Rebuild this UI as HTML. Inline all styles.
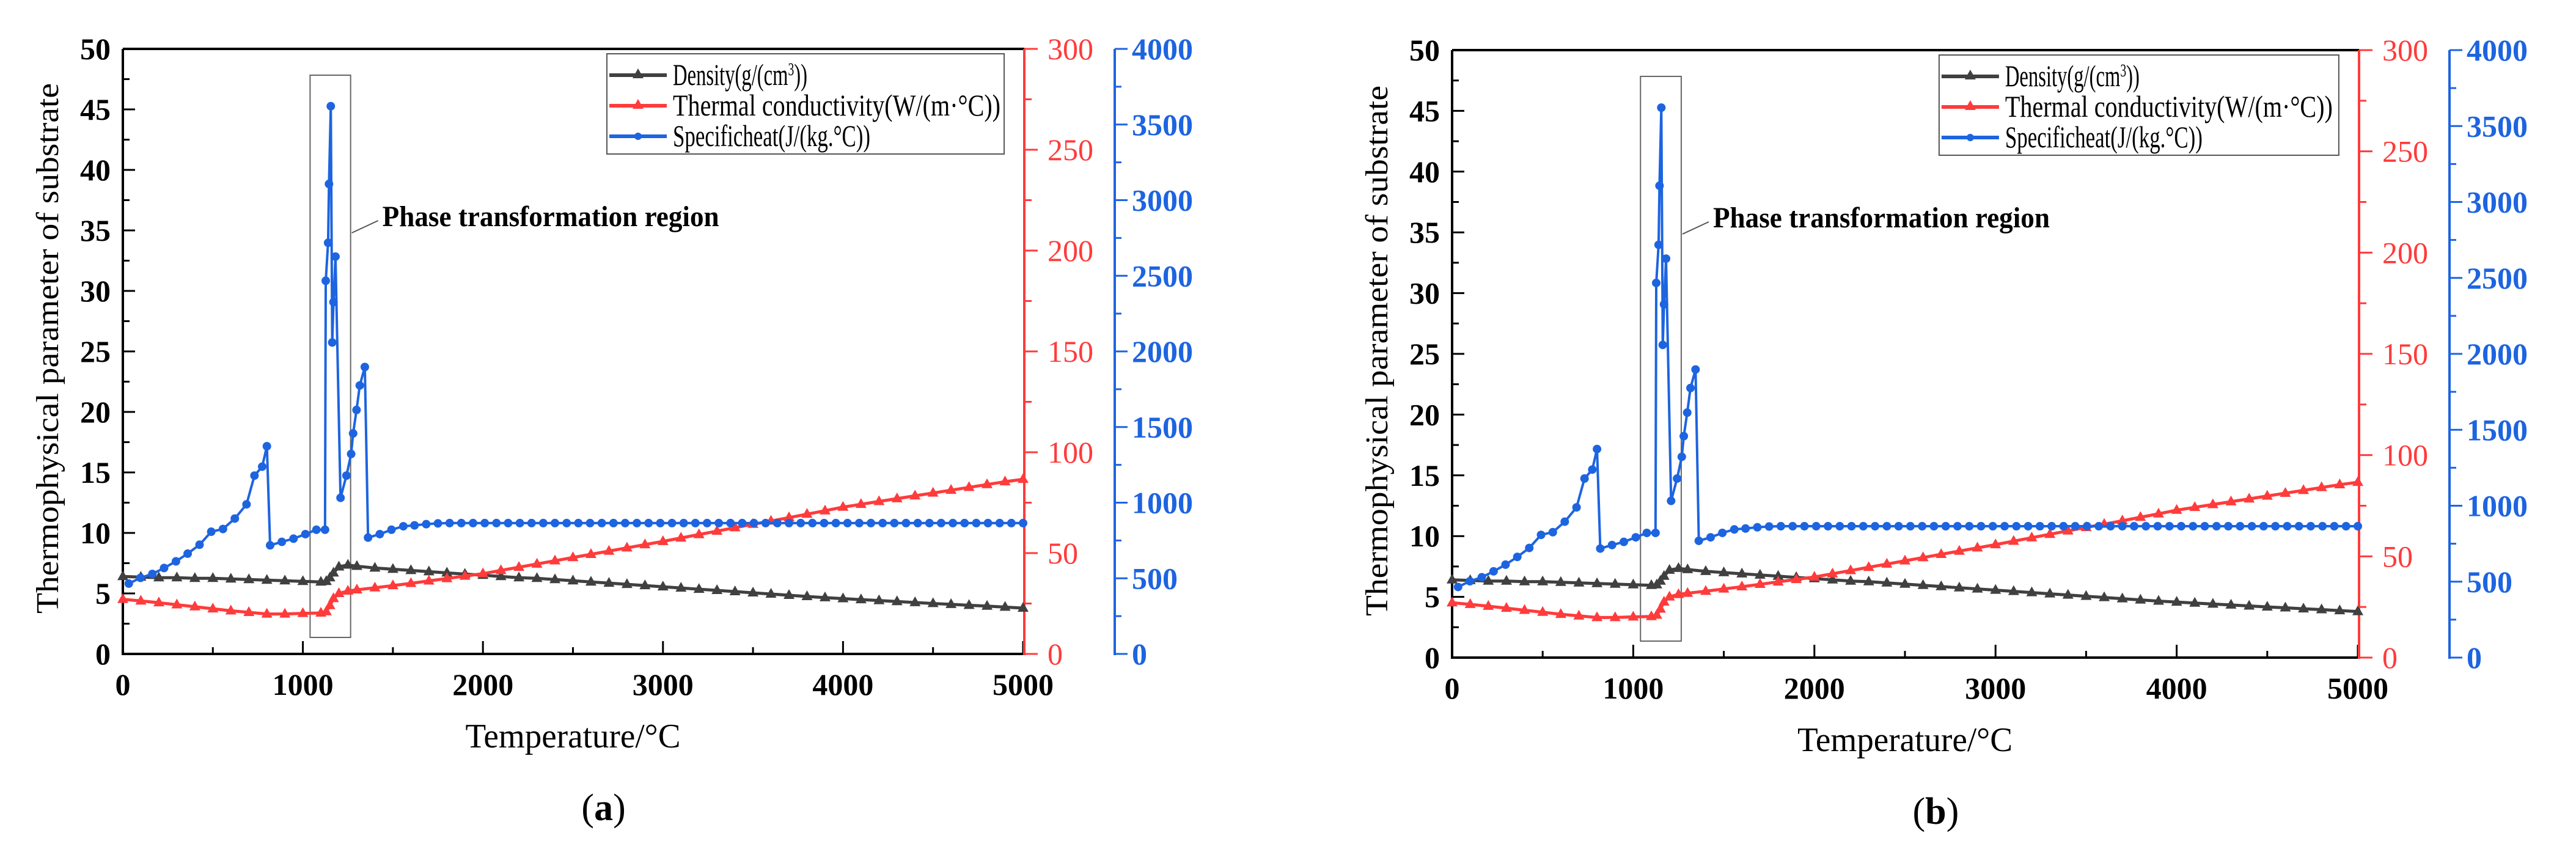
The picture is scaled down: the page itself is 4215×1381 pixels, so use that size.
<!DOCTYPE html>
<html><head><meta charset="utf-8"><title>Thermophysical parameters</title>
<style>html,body{margin:0;padding:0;background:#fff}svg{display:block}
text{font-family:"Liberation Serif",serif}</style></head>
<body>
<svg id="fig" xmlns="http://www.w3.org/2000/svg" width="4215" height="1381" viewBox="0 0 4215 1381">
<rect width="4215" height="1381" fill="#fff"/>
</svg>
<script>
// ---- data (°C ; density g/cm3 on left axis ; conductivity on red axis ; specific heat on blue axis)
const densT = [0,100,200,300,400,500,600,700,800,900,1000,1100,1130,1150,1170,1200,1250,1300,1400,1500,1600,1700,1800,1900,2000,2100,2200,2300,2400,2500,2600,2700,2800,2900,3000,3100,3200,3300,3400,3500,3600,3700,3800,3900,4000,4100,4200,4300,4400,4500,4600,4700,4800,4900,5000];
const densV = [6.4,6.35,6.3,6.3,6.25,6.25,6.2,6.15,6.1,6.05,6.0,5.95,6.0,6.3,6.7,7.2,7.35,7.25,7.1,7.0,6.9,6.8,6.7,6.6,6.5,6.4,6.3,6.25,6.15,6.05,5.95,5.85,5.75,5.65,5.55,5.45,5.35,5.25,5.15,5.05,4.95,4.85,4.75,4.65,4.57,4.49,4.41,4.33,4.25,4.17,4.1,4.02,3.95,3.87,3.79];
const condT = [0,100,200,300,400,500,600,700,800,900,1000,1100,1130,1150,1170,1200,1250,1300,1400,1500,1600,1700,1800,1900,2000,2100,2200,2300,2400,2500,2600,2700,2800,2900,3000,3100,3200,3300,3400,3500,3600,3700,3800,3900,4000,4100,4200,4300,4400,4500,4600,4700,4800,4900,5000];
const condV = [27.1,26.3,25.4,24.4,23.4,22.4,21.4,20.6,19.8,19.8,20.1,20.3,21,24,27.5,30,31.2,31.8,32.8,33.9,35,36.2,37.4,38.6,39.8,41.4,43,44.6,46.2,47.8,49.4,51,52.6,54.2,55.8,57.5,59.2,60.9,62.6,64.3,65.9,67.6,69.3,71,72.8,74.2,75.6,77,78.4,79.8,81.2,82.6,84,85.4,86.6];
const heatT = [33,98,164,229,295,360,426,491,556,622,687,731,774,800,818,883,948,1014,1075,1123,1127,1140,1145,1155,1163,1170,1181,1209,1242,1268,1279,1298,1316,1344,1362,1427,1492,1558,1620,1685,1750,1815,1880,1945,2010,2075,2140,2205,2270,2335,2400,2465,2530,2595,2660,2725,2790,2855,2920,2985,3050,3115,3180,3245,3310,3375,3440,3505,3570,3635,3700,3765,3830,3895,3960,4025,4090,4155,4220,4285,4350,4415,4480,4545,4610,4675,4740,4805,4870,4935,5000];
const heatV = [465,503,529,568,612,663,722,808,826,895,989,1179,1238,1373,718,741,762,792,821,821,2467,2718,3107,3621,2059,2326,2627,1032,1179,1322,1458,1613,1775,1897,769,792,821,844,850,858,863,865,865,865,865,865,865,865,865,865,865,865,865,865,865,865,865,865,865,865,865,865,865,865,865,865,865,865,865,865,865,865,865,865,865,865,865,865,865,865,865,865,865,865,865,865,865,865,865,865,865];
const xTicks = [0,1000,2000,3000,4000,5000];
const leftTicks = [0,5,10,15,20,25,30,35,40,45,50];
const redTicks = [0,50,100,150,200,250,300];
const blueTicks = [0,500,1000,1500,2000,2500,3000,3500,4000];

const NS = "http://www.w3.org/2000/svg";
const svg = document.getElementById('fig');
function mk(tag, attrs, parent){const e=document.createElementNS(NS,tag);for(const k in attrs)e.setAttribute(k,attrs[k]);parent.appendChild(e);return e;}
const BLACK="#404040", RED="#ff3b3b", BLUE="#1d64e0";

function panel(P){
  const g = mk('g',{},svg);
  
  
  const W=P.x1-P.x0, H=P.y1-P.y0;
  const sx = t => P.x0 + t/5000*W;
  const sL = v => P.y1 - v/50*H;
  const sR = v => P.y1 - v/300*H;
  const sB = v => P.y1 - v/4000*H;
  const rx = P.x1+2, bx = P.x1+150;
  for(let v=0; v<=50; v+=2.5){
    const maj = v%5===0;
    const t = mk('line',{x1:P.x0,x2:P.x0+(maj?20:11),y1:sL(v),y2:sL(v),stroke:'#000','stroke-width':3},g);
    
    
  }
  for(let v=0; v<=5000; v+=500){
    const maj = v%1000===0;
    const t = mk('line',{x1:sx(v),x2:sx(v),y1:P.y1,y2:P.y1-(maj?21:11),stroke:'#000','stroke-width':3},g);
    
    
  }
  const top = mk('line',{x1:P.x0,x2:rx,y1:P.y0,y2:P.y0,stroke:'#000','stroke-width':4},g);
  
  
  const la = mk('line',{x1:P.x0,x2:P.x0,y1:P.y0,y2:P.y1+2,stroke:'#000','stroke-width':4},g);
  
  
  const ba = mk('line',{x1:P.x0-2,x2:rx,y1:P.y1,y2:P.y1,stroke:'#000','stroke-width':4},g);
  
  
  const ra = mk('line',{x1:rx,x2:rx,y1:P.y0,y2:P.y1+2,stroke:RED,'stroke-width':4},g);
  
  
  const bl = mk('line',{x1:bx,x2:bx,y1:P.y0,y2:P.y1+2,stroke:BLUE,'stroke-width':4},g);
  
  
  for(let v=0; v<=300; v+=25){
    const maj=v%50===0;
    const t = mk('line',{x1:rx,x2:rx+(maj?22:12),y1:sR(v),y2:sR(v),stroke:RED,'stroke-width':3},g);
    
    
  }
  for(let v=0; v<=4000; v+=250){
    const maj=v%500===0;
    const t = mk('line',{x1:bx,x2:bx+(maj?21:11),y1:sB(v),y2:sB(v),stroke:BLUE,'stroke-width':3},g);
    
    
  }
  leftTicks.forEach(v=>{
    const t = mk('text',{x:P.x0-20,y:sL(v)+17,'text-anchor':'end','font-size':50,'font-weight':'bold',fill:'#000'},g);
    t.textContent=v;
    
    
  });
  xTicks.forEach(v=>{
    const t = mk('text',{x:sx(v),y:P.y1+67,'text-anchor':'middle','font-size':50,'font-weight':'bold',fill:'#000'},g);
    t.textContent=v;
    
    
  });
  redTicks.forEach(v=>{
    const t = mk('text',{x:rx+38,y:sR(v)+17,'font-size':50,fill:RED},g);
    t.textContent=v;
    
    
  });
  blueTicks.forEach(v=>{
    const t = mk('text',{x:bx+28,y:sB(v)+17,'font-size':50,'font-weight':'bold',fill:BLUE},g);
    t.textContent=v;
    
    
  });
  const yt = mk('text',{x:0,y:0,'text-anchor':'middle','font-size':52,fill:'#000',transform:`translate(${P.x0-106},${(P.y0+P.y1)/2-5}) rotate(-90)`,textLength:868,lengthAdjust:'spacingAndGlyphs'},g);
  yt.textContent='Thermophysical parameter of substrate';
  
  
  const xt = mk('text',{x:P.x0+W*0.5,y:P.y1+153,'text-anchor':'middle','font-size':56,fill:'#000',textLength:352,lengthAdjust:'spacingAndGlyphs'},g);
  xt.textContent='Temperature/°C';
  
  
  const cap = mk('text',{x:P.x0+W*0.534,y:P.y1+272,'text-anchor':'middle','font-size':62,fill:'#000'},g);
  cap.innerHTML='(<tspan font-weight="bold">'+P.tag+'</tspan>)';
  
  
  const pb = mk('rect',{x:sx(1040),y:P.y0+43,width:sx(1265)-sx(1040),height:P.y1-P.y0-70,fill:'none',stroke:'#666','stroke-width':2},g);
  
  
  const pl = mk('line',{x1:sx(1265)+2,y1:P.y0+301,x2:sx(1265)+45,y2:P.y0+281,stroke:'#555','stroke-width':2},g);
  
  
  const pt = mk('text',{x:sx(1265)+52,y:P.y0+290,'font-size':48,'font-weight':'bold',fill:'#000',textLength:551,lengthAdjust:'spacingAndGlyphs'},g);
  pt.textContent='Phase transformation region';
  
  
  function tri(x,y,c,parent,name){
    const p = mk('polygon',{points:`${x},${y-10} ${x-9},${y+6} ${x+9},${y+6}`,fill:c},parent);
    
    
  }
  const sd = mk('g',{},g);
  
  
  const dl = mk('polyline',{points:densT.map((t,i)=>sx(t)+','+sL(densV[i])).join(' '),fill:'none',stroke:BLACK,'stroke-width':5},sd);
  
  
  densT.forEach((t,i)=>tri(sx(t),sL(densV[i]),BLACK,sd,'density-point'));
  const sc = mk('g',{},g);
  
  
  const cl = mk('polyline',{points:condT.map((t,i)=>sx(t)+','+sR(condV[i])).join(' '),fill:'none',stroke:RED,'stroke-width':5},sc);
  
  
  condT.forEach((t,i)=>tri(sx(t),sR(condV[i]),RED,sc,'conductivity-point'));
  const sh = mk('g',{},g);
  
  
  const hl = mk('polyline',{points:heatT.map((t,i)=>sx(t)+','+sB(heatV[i])).join(' '),fill:'none',stroke:BLUE,'stroke-width':4},sh);
  
  
  heatT.forEach((t,i)=>{
    const c = mk('circle',{cx:sx(t),cy:sB(heatV[i]),r:7,fill:BLUE},sh);
    
    
  });
  const lg = mk('g',{},g);
  
  
  const lx = P.x0 + W*0.5377, lw = W*0.4413;
  const lb = mk('rect',{x:lx,y:P.y0+8,width:lw,height:164,fill:'#fff',stroke:'#555','stroke-width':2},lg);
  
  
  const items=[['Density(g/(cm<tspan baseline-shift="super" font-size="30">3</tspan>))',BLACK,'tri',220],['Thermal conductivity(W/(m·°C))',RED,'tri',536],['Specificheat(J/(kg.°C))',BLUE,'dot',323]];
  items.forEach((it,i)=>{
    const y = P.y0+43+i*50;
    const e = mk('g',{},lg);
    
    
    const ln = mk('line',{x1:lx+4,x2:lx+98,y1:y,y2:y,stroke:it[1],'stroke-width':6},e);
    
    
    if(it[2]==='tri') tri(lx+51,y-1,it[1],e,'legend-marker');
    else { const c=mk('circle',{cx:lx+51,cy:y,r:6,fill:it[1]},e);   }
    const tx = mk('text',{x:lx+108,y:y+16,'font-size':50,fill:'#000',textLength:it[3],lengthAdjust:'spacingAndGlyphs'},e);
    tx.innerHTML = it[0];
    
    
  });
}
panel({tag:'a',x0:201,x1:1674,y0:80,y1:1070});
panel({tag:'b',x0:2376,x1:3858,y0:82,y1:1076});
</script>
</body></html>
